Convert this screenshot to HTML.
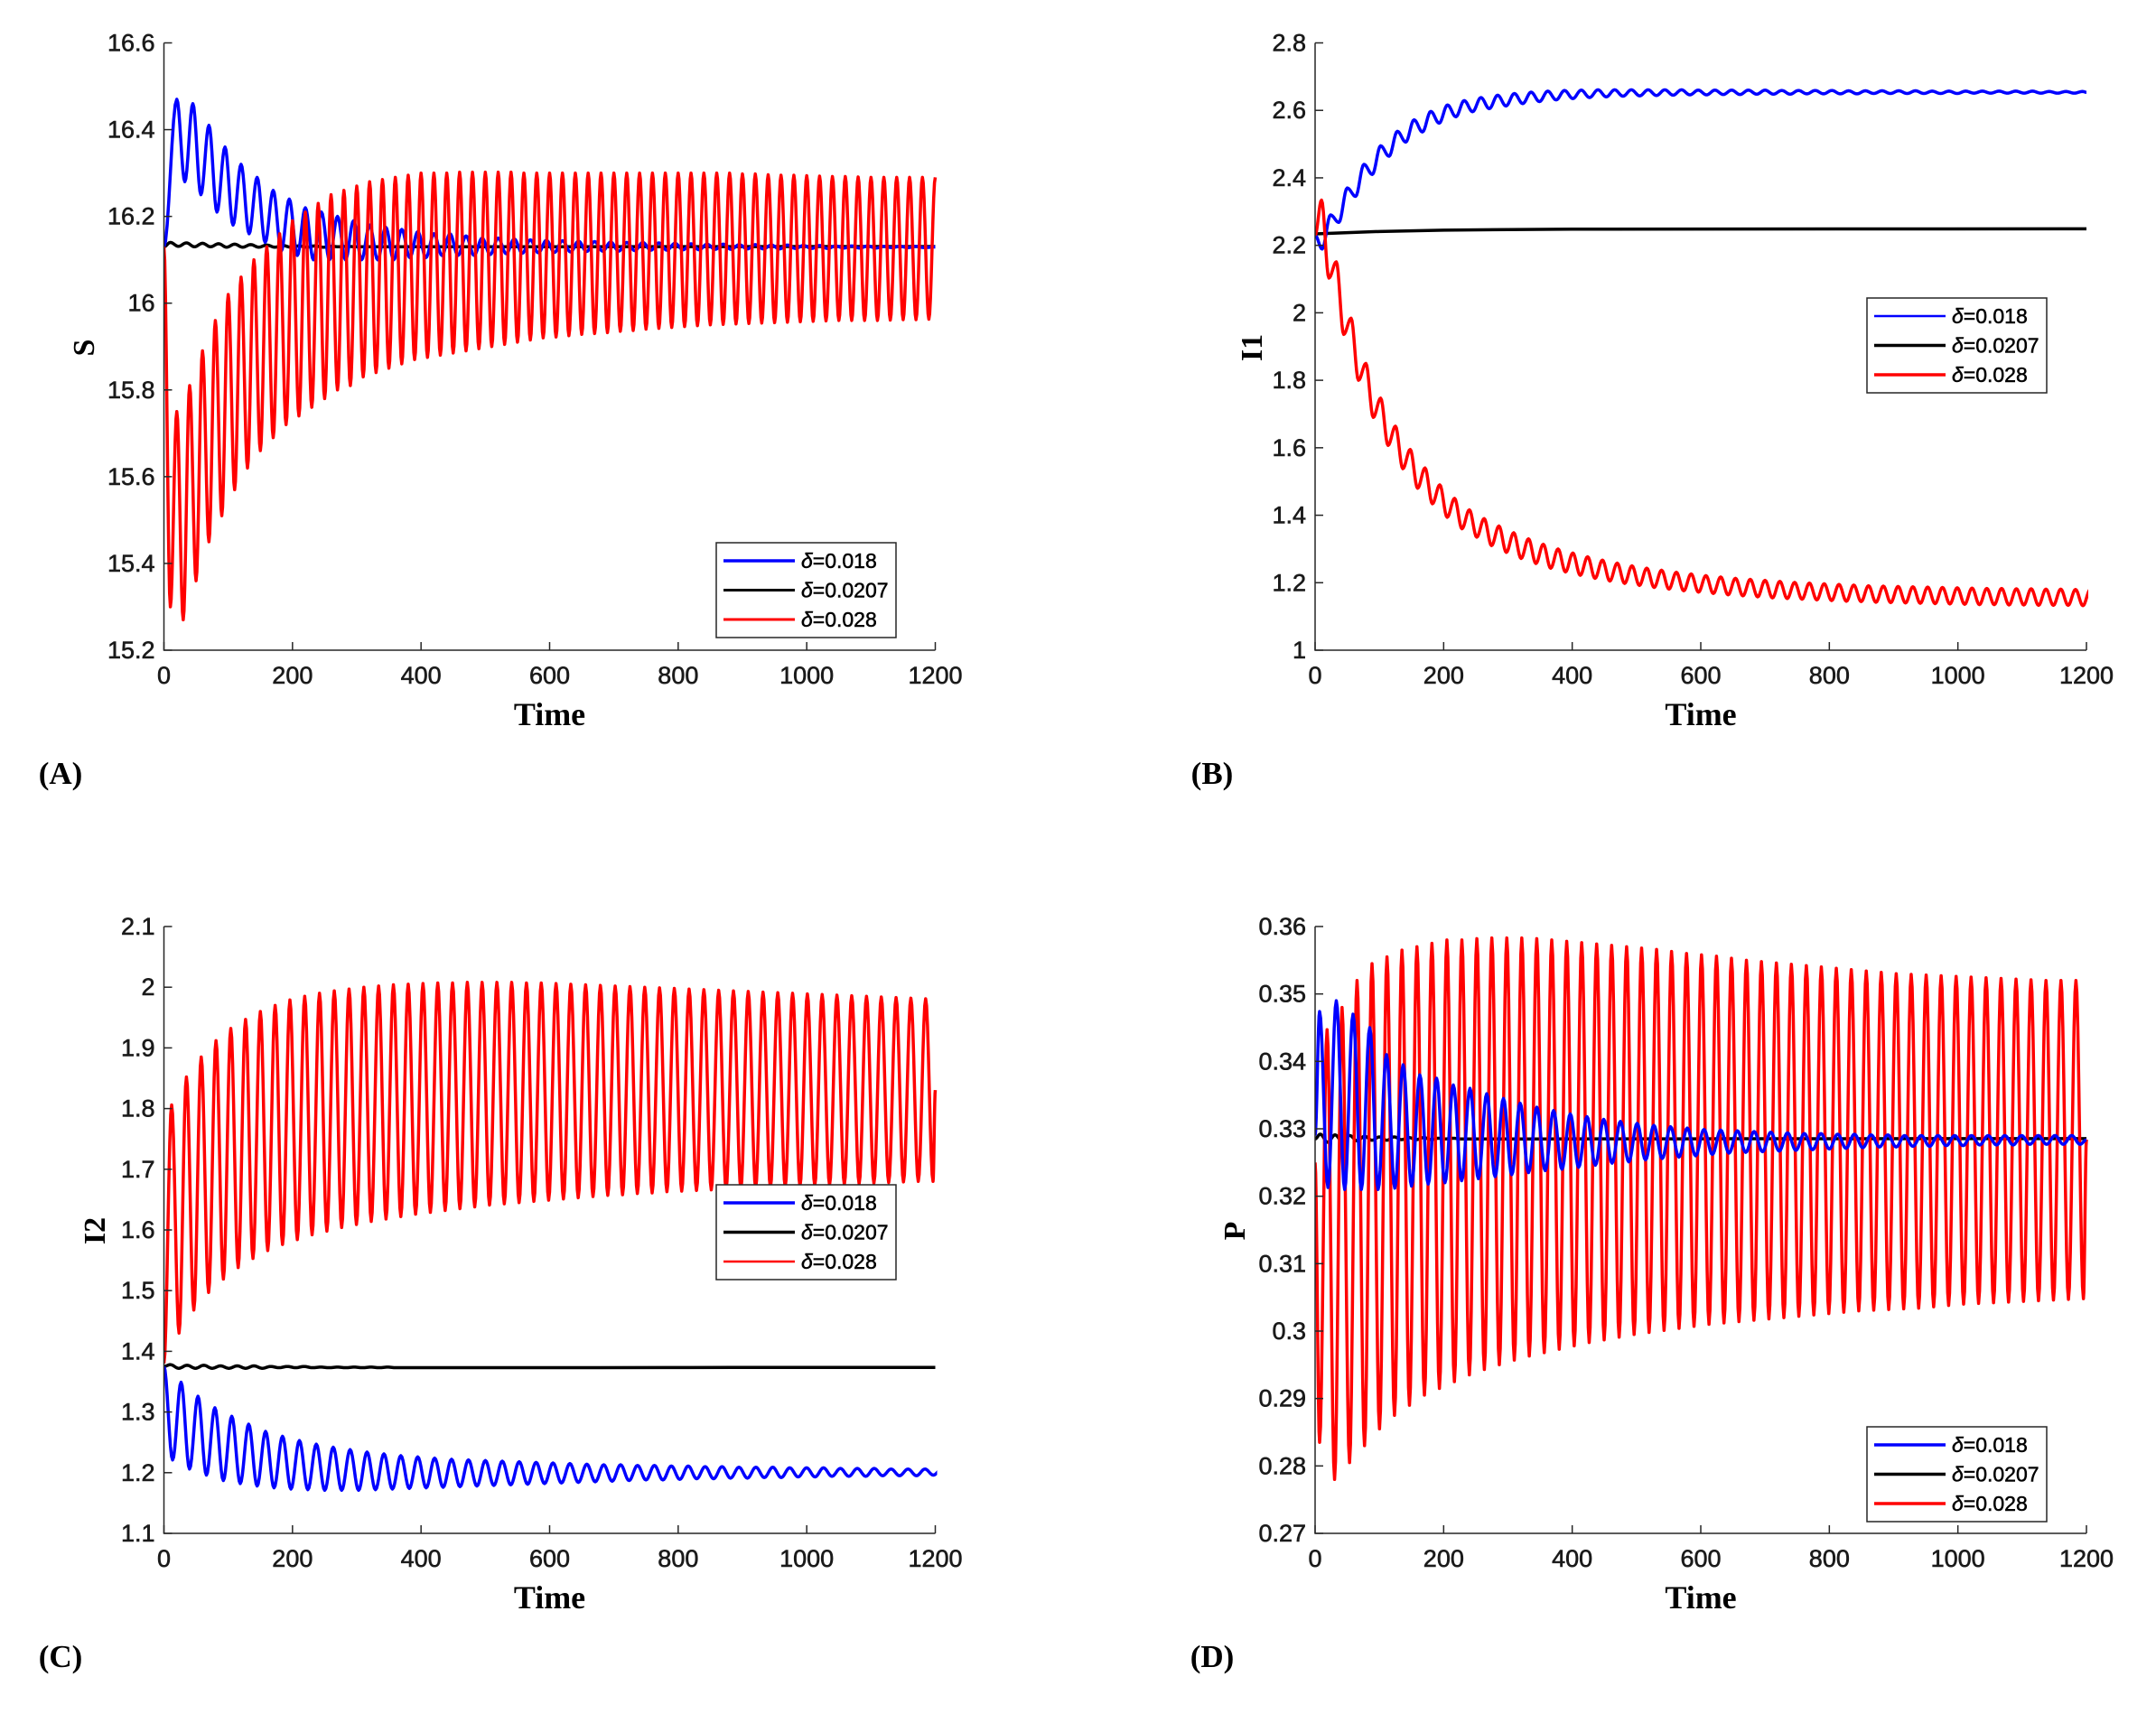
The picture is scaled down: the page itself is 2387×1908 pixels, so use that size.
<!DOCTYPE html>
<html><head><meta charset="utf-8"><style>
html,body{margin:0;padding:0;background:#fff}
svg text{font-family:"Liberation Sans",Arial,sans-serif}
.tk{font-size:27px;fill:#1a1a1a;stroke:#1a1a1a;stroke-width:0.6px}
.ser{font-family:"Liberation Serif","Times New Roman",serif !important;font-weight:bold;fill:#000}
.lg{font-size:23px;fill:#000;stroke:#000;stroke-width:0.5px}
</style></head><body>
<svg id="fig" width="2387" height="1903" viewBox="0 0 2387 1903" xmlns="http://www.w3.org/2000/svg"></svg>
<script>
// ---------- data ----------
const xTicks=[0,200,400,600,800,1000,1200];
const aTicks=[15.2,15.4,15.6,15.8,16,16.2,16.4,16.6];
const bTicks=[1,1.2,1.4,1.6,1.8,2,2.2,2.4,2.6,2.8];
const cTicks=[1.1,1.2,1.3,1.4,1.5,1.6,1.7,1.8,1.9,2,2.1];
const dTicks=[0.27,0.28,0.29,0.3,0.31,0.32,0.33,0.34,0.35,0.36];
const legendLabels=["\u03b4=0.018","\u03b4=0.0207","\u03b4=0.028"];

// Panel A (S)
const aRedLo=[15.30,15.27,15.36,15.45,15.51,15.57,15.62,15.66,15.69,15.72,15.74,15.76,15.78,15.80,15.81,15.83,15.84,15.85,15.86,15.87,15.875,15.88,15.885,15.89,15.895,15.90,15.905,15.91,15.915,15.92,15.922,15.925,15.928,15.93,15.932,15.935,15.937,15.94,15.942,15.944,15.946,15.948,15.95,15.951,15.952,15.953,15.954,15.955,15.956,15.957,15.958,15.959,15.96,15.96,15.96,15.96,15.961,15.962,15.962,15.963];
const aRedHi=[15.75,15.81,15.89,15.96,16.02,16.06,16.10,16.13,16.16,16.19,16.21,16.23,16.25,16.26,16.27,16.28,16.285,16.29,16.295,16.30,16.30,16.30,16.302,16.302,16.302,16.302,16.302,16.30,16.30,16.30,16.30,16.30,16.30,16.30,16.30,16.30,16.30,16.30,16.30,16.30,16.30,16.30,16.30,16.30,16.298,16.298,16.296,16.295,16.295,16.294,16.293,16.292,16.292,16.291,16.29,16.29,16.29,16.29,16.29,16.29];
const aBlueHi=[16.47,16.46,16.41,16.36,16.32,16.29,16.26,16.24,16.22,16.21,16.20,16.19,16.18,16.175,16.17,16.165,16.16,16.16,16.155,16.15,16.15,16.148,16.146,16.145,16.144,16.143,16.142,16.141,16.14,16.14,16.139,16.138,16.137,16.136,16.136,16.135,16.135,16.134,16.134,16.133,16.133,16.132,16.132,16.132,16.131,16.131,16.131];
const aBlueLo=[16.28,16.25,16.21,16.18,16.16,16.14,16.12,16.11,16.10,16.10,16.10,16.10,16.10,16.10,16.105,16.105,16.11,16.11,16.11,16.112,16.114,16.115,16.116,16.117,16.118,16.119,16.12,16.12,16.121,16.122,16.122,16.123,16.123,16.124,16.124,16.125,16.125,16.125,16.126,16.126,16.126,16.127,16.127,16.127,16.128,16.128,16.128];
const aBlackHi=[16.14,16.139,16.138,16.137,16.136,16.135,16.134,16.133,16.132,16.132,16.131,16.131];
const aBlackLo=[16.131,16.13,16.13,16.129,16.129,16.129,16.129,16.129,16.129,16.129,16.13,16.13];

// Panel B (I1)
const bBlueLo=[2.189,2.268,2.345,2.41,2.464,2.506,2.536,2.562,2.581,2.596,2.605,2.613,2.62,2.626,2.631,2.635,2.638,2.64,2.642,2.643,2.644,2.645,2.646,2.646,2.647,2.647,2.648,2.648,2.648,2.649,2.649,2.649,2.649,2.65,2.65,2.65,2.65,2.65,2.65,2.651,2.651,2.651,2.651,2.651,2.651,2.651];
const bBlueHi=[2.29,2.37,2.44,2.495,2.538,2.572,2.597,2.616,2.629,2.638,2.645,2.650,2.654,2.657,2.659,2.66,2.661,2.661,2.661,2.661,2.661,2.661,2.66,2.66,2.66,2.66,2.66,2.659,2.659,2.659,2.659,2.658,2.658,2.658,2.658,2.658,2.657,2.657,2.657,2.657,2.657,2.657,2.657,2.656,2.656,2.656];
const bRedHi=[2.334,2.151,1.984,1.85,1.747,1.664,1.595,1.54,1.49,1.45,1.416,1.39,1.368,1.348,1.33,1.314,1.30,1.288,1.277,1.267,1.258,1.25,1.243,1.237,1.231,1.226,1.221,1.217,1.213,1.21,1.207,1.204,1.201,1.199,1.197,1.195,1.193,1.191,1.19,1.189,1.188,1.187,1.186,1.185,1.184,1.183,1.183,1.182,1.182,1.181,1.181,1.18,1.18];
const bRedLo=[2.103,1.936,1.80,1.69,1.607,1.538,1.48,1.434,1.394,1.36,1.335,1.31,1.29,1.272,1.257,1.243,1.232,1.222,1.213,1.205,1.198,1.192,1.186,1.181,1.176,1.172,1.168,1.164,1.161,1.158,1.155,1.153,1.151,1.149,1.147,1.145,1.144,1.142,1.141,1.14,1.139,1.138,1.137,1.136,1.135,1.135,1.134,1.134,1.133,1.133,1.133,1.132];
const bBlackT=[0,100,200,400,1200];
const bBlackV=[2.234,2.241,2.245,2.248,2.249];

// Panel C (I2)
const cRedHi=[1.806,1.852,1.885,1.912,1.932,1.947,1.96,1.97,1.979,1.985,1.99,1.994,1.997,2.0,2.002,2.004,2.005,2.006,2.007,2.007,2.008,2.008,2.008,2.008,2.007,2.007,2.006,2.005,2.004,2.003,2.002,2.001,2.0,1.999,1.998,1.997,1.996,1.995,1.994,1.993,1.992,1.991,1.99,1.989,1.988,1.987,1.986,1.985,1.984,1.983,1.982,1.981];
const cRedLo=[1.43,1.468,1.497,1.519,1.538,1.553,1.566,1.576,1.584,1.592,1.598,1.604,1.609,1.614,1.618,1.622,1.626,1.629,1.632,1.635,1.638,1.641,1.643,1.645,1.647,1.649,1.651,1.653,1.655,1.657,1.658,1.66,1.661,1.663,1.664,1.665,1.666,1.667,1.668,1.669,1.67,1.671,1.672,1.673,1.674,1.675,1.676,1.677,1.678,1.679,1.68,1.68];
const cBlueLo=[1.221,1.206,1.196,1.187,1.182,1.178,1.175,1.173,1.172,1.171,1.171,1.171,1.172,1.173,1.174,1.175,1.176,1.177,1.178,1.179,1.18,1.181,1.182,1.183,1.184,1.185,1.186,1.187,1.188,1.188,1.189,1.19,1.19,1.191,1.191,1.192,1.192,1.193,1.193,1.194,1.194,1.194,1.195,1.195,1.195,1.196];
const cBlueHi=[1.349,1.326,1.307,1.293,1.28,1.268,1.26,1.253,1.247,1.242,1.238,1.234,1.231,1.228,1.226,1.224,1.222,1.221,1.22,1.219,1.218,1.217,1.216,1.215,1.214,1.213,1.213,1.212,1.212,1.211,1.211,1.21,1.21,1.209,1.209,1.209,1.208,1.208,1.208,1.207,1.207,1.207,1.206,1.206,1.206,1.206];
const cBlackHi=[1.378,1.377,1.377,1.376,1.376,1.376,1.375,1.375,1.375,1.374,1.374,1.374,1.374,1.374];
const cBlackLo=[1.372,1.372,1.372,1.372,1.372,1.372,1.373,1.373,1.373,1.373,1.373,1.373,1.373,1.373];

// Panel D (P)
const dRedLo=[0.2835,0.278,0.2805,0.283,0.2855,0.2875,0.289,0.2905,0.2915,0.2925,0.2935,0.2943,0.295,0.2957,0.2963,0.2968,0.2973,0.2978,0.2983,0.2987,0.2991,0.2995,0.2998,0.3001,0.3004,0.3007,0.301,0.3012,0.3014,0.3016,0.3018,0.302,0.3022,0.3024,0.3026,0.3028,0.303,0.3031,0.3032,0.3033,0.3034,0.3036,0.3038,0.304,0.3041,0.3042,0.3043,0.3044,0.3045,0.3046,0.3047,0.3048];
const dRedHi=[0.3447,0.348,0.352,0.3545,0.3555,0.3565,0.357,0.3575,0.358,0.358,0.3582,0.3583,0.3583,0.3583,0.3582,0.358,0.3578,0.3576,0.3574,0.3572,0.357,0.3568,0.3566,0.3563,0.356,0.3558,0.3556,0.3553,0.355,0.3548,0.3546,0.3544,0.3542,0.354,0.3538,0.3536,0.3534,0.3532,0.353,0.3529,0.3528,0.3527,0.3526,0.3525,0.3524,0.3523,0.3522,0.3521,0.352,0.352,0.352];
const dBlueHi=[0.3474,0.349,0.347,0.345,0.341,0.3395,0.338,0.3375,0.3365,0.336,0.3352,0.3345,0.3338,0.3332,0.3327,0.3322,0.3318,0.3314,0.3311,0.3308,0.3305,0.3303,0.3301,0.3299,0.3298,0.3297,0.3296,0.3295,0.3294,0.3293,0.3293,0.3292,0.3292,0.3291,0.3291,0.329,0.329,0.329,0.329,0.329,0.329,0.329,0.329,0.329,0.329,0.329];
const dBlueLo=[0.3213,0.321,0.321,0.321,0.3212,0.3215,0.3218,0.322,0.3223,0.3226,0.3229,0.3232,0.3235,0.3238,0.324,0.3243,0.3246,0.3249,0.3251,0.3254,0.3256,0.3258,0.326,0.3262,0.3264,0.3265,0.3266,0.3267,0.3268,0.3269,0.327,0.3271,0.3272,0.3273,0.3273,0.3274,0.3274,0.3275,0.3275,0.3276,0.3276,0.3276,0.3277,0.3277,0.3277,0.3277];
const dBlackHi=[0.3292,0.3291,0.329,0.3289,0.3288,0.3288,0.3287,0.3287,0.3286,0.3286];
const dBlackLo=[0.3280,0.3281,0.3282,0.3283,0.3283,0.3284,0.3284,0.3284,0.3285,0.3285];

// ---------- rendering ----------
const NS="http://www.w3.org/2000/svg";
const svg=document.getElementById('fig');
function mk(tag,attrs,parent){const e=document.createElementNS(NS,tag);for(const k in attrs)e.setAttribute(k,attrs[k]);(parent||svg).appendChild(e);return e;}

function oscPts(v0,t1,h,first,hi,lo){
  const ex=[[0,v0]];let ih=0,il=0,isHi=(first==='hi'),t=t1;
  while(true){
    const arr=isHi?hi:lo, idx=isHi?ih:il;
    if(idx>=arr.length)break;
    ex.push([t,arr[idx]]);
    if(isHi)ih++;else il++;
    isHi=!isHi;t+=h;
    if(t>1200+h)break;
  }
  const last=ex[ex.length-1];
  if(last[0]<1200)ex.push([1200,(ex[ex.length-2][1]+last[1])/2]);
  return ex;
}
function smoothPath(ex,X,Y){
  let d='M'+X(ex[0][0]).toFixed(2)+','+Y(ex[0][1]).toFixed(2);
  for(let i=1;i<ex.length;i++){
    const [ta,va]=ex[i-1],[tb,vb]=ex[i];
    const n=8;
    for(let k=1;k<=n;k++){
      const f=k/n, s=(1-Math.cos(Math.PI*f))/2;
      d+=' L'+X(ta+(tb-ta)*f).toFixed(2)+','+Y(va+(vb-va)*s).toFixed(2);
    }
  }
  return d;
}
function linePath(ts,vs,X,Y){return ts.map((t,i)=>(i?'L':'M')+X(t).toFixed(2)+','+Y(vs[i]).toFixed(2)).join(' ');}

const panels=[
 {id:'a',x0:181.5,x1:1035.5,y0:47.5,y1:720,ymin:15.2,ymax:16.6,ticks:aTicks,ylabel:'S',yl:[92,385],letter:'(A)',lt:[67,856],leg:[793,601],lw:[3.5,3,3],
  series:[
   {c:'#000000',ex:()=>oscPts(16.13,10,12.5,'hi',aBlackHi,aBlackLo),n:'black-delta-0207'},
   {c:'#0000ff',ex:()=>oscPts(16.13,20,12.5,'hi',aBlueHi,aBlueLo),n:'blue-delta-018'},
   {c:'#ff0000',ex:()=>oscPts(16.13,10,10,'lo',aRedHi,aRedLo),n:'red-delta-028'}]},
 {id:'b',x0:1456,x1:2310,y0:47.5,y1:720,ymin:1,ymax:2.8,ticks:bTicks,ylabel:'I1',yl:[1385,385],letter:'(B)',lt:[1342,856],leg:[2067,330],lw:[2.5,3.5,3.5],
  series:[
   {c:'#000000',pts:()=>[bBlackT,bBlackV],n:'black-delta-0207'},
   {c:'#0000ff',ex:()=>oscPts(2.23,11,13,'lo',bBlueHi,bBlueLo),n:'blue-delta-018'},
   {c:'#ff0000',ex:()=>oscPts(2.23,10,11.5,'hi',bRedHi,bRedLo),n:'red-delta-028'}]},
 {id:'c',x0:181.5,x1:1035.5,y0:1026,y1:1698,ymin:1.1,ymax:2.1,ticks:cTicks,ylabel:'I2',yl:[104,1363],letter:'(C)',lt:[67,1834],leg:[793,1312],lw:[3.5,3.5,2.5],
  series:[
   {c:'#000000',ex:()=>oscPts(1.375,10,13,'hi',cBlackHi,cBlackLo),n:'black-delta-0207'},
   {c:'#0000ff',ex:()=>oscPts(1.375,13.5,13.15,'lo',cBlueHi,cBlueLo),n:'blue-delta-018'},
   {c:'#ff0000',ex:()=>oscPts(1.38,12,11.5,'hi',cRedHi,cRedLo),n:'red-delta-028'}]},
 {id:'d',x0:1456,x1:2310,y0:1026,y1:1698,ymin:0.27,ymax:0.36,ticks:dTicks,ylabel:'P',yl:[1366,1363],letter:'(D)',lt:[1342,1834],leg:[2067,1580],lw:[3.5,3.5,3.5],
  series:[
   {c:'#000000',ex:()=>oscPts(0.3285,8,11.5,'hi',dBlackHi,dBlackLo),n:'black-delta-0207'},
   {c:'#ff0000',ex:()=>oscPts(0.325,7,11.65,'lo',dRedHi,dRedLo),n:'red-delta-028'},
   {c:'#0000ff',ex:()=>oscPts(0.329,7,13,'hi',dBlueHi,dBlueLo),n:'blue-delta-018'}]}
];

panels.forEach(p=>{
  const g=mk('g',{});
  
  
  const X=t=>p.x0+(t-0)/1200*(p.x1-p.x0);
  const Y=v=>p.y1-(v-p.ymin)/(p.ymax-p.ymin)*(p.y1-p.y0);
  const cp=mk('clipPath',{id:'clip'+p.id},g);
  mk('rect',{x:p.x0,y:p.y0-2,width:p.x1-p.x0+2,height:p.y1-p.y0+4},cp);
  const sg=mk('g',{'clip-path':'url(#clip'+p.id+')'},g);
  p.series.forEach(s=>{
    let d;
    if(s.pts){const [ts,vs]=s.pts();d=linePath(ts,vs,X,Y);}
    else d=smoothPath(s.ex(),X,Y);
    const path=mk('path',{d:d,fill:'none',stroke:s.c,'stroke-width':3.5,'stroke-linejoin':'round'},sg);
    
    
  });
  const ax=mk('path',{d:`M${p.x0},${p.y0} L${p.x0},${p.y1} L${p.x1},${p.y1}`,fill:'none',stroke:'#262626','stroke-width':1.5},g);
  
  
  p.ticks.forEach(v=>{
    const y=Y(v);
    mk('line',{x1:p.x0,x2:p.x0+9,y1:y,y2:y,stroke:'#262626','stroke-width':1.5},g);
    const t=mk('text',{x:p.x0-10,y:y+9,'text-anchor':'end',class:'tk'},g);
    t.textContent=String(v);
    
    
  });
  xTicks.forEach(v=>{
    const x=X(v);
    mk('line',{x1:x,x2:x,y1:p.y1,y2:p.y1-9,stroke:'#262626','stroke-width':1.5},g);
    const t=mk('text',{x:x,y:p.y1+37,'text-anchor':'middle',class:'tk'},g);
    t.textContent=String(v);
    
    
  });
  const xl=mk('text',{x:(p.x0+p.x1)/2,y:p.y1+83,'text-anchor':'middle',class:'ser','font-size':36},g);
  xl.textContent='Time';
  
  
  const yl=mk('text',{x:0,y:0,'text-anchor':'middle',class:'ser','font-size':34,transform:`translate(${p.yl[0]+12},${p.yl[1]}) rotate(-90)`},g);
  yl.textContent=p.ylabel;
  
  
  const lt=mk('text',{x:p.lt[0],y:p.lt[1]+12,'text-anchor':'middle',class:'ser','font-size':35},g);
  lt.textContent=p.letter;
  
  
  const lg=mk('g',{},g);
  
  
  mk('rect',{x:p.leg[0],y:p.leg[1],width:199,height:105,fill:'#fff',stroke:'#262626','stroke-width':1.5},lg);
  const cols=['#0000ff','#000000','#ff0000'];
  [0,1,2].forEach(i=>{
    const y=p.leg[1]+20+i*32.5;
    const ln=mk('line',{x1:p.leg[0]+8,x2:p.leg[0]+87,y1:y,y2:y,stroke:cols[i],'stroke-width':p.lw[i]},lg);
    
    
    const t=mk('text',{x:p.leg[0]+94,y:y+8,class:'lg'},lg);
    
    
    const d1=mk('tspan',{'font-style':'italic'},t);d1.textContent='\u03b4';
    const d2=mk('tspan',{},t);d2.textContent=legendLabels[i].slice(1);
  });
});
</script>
</body></html>
